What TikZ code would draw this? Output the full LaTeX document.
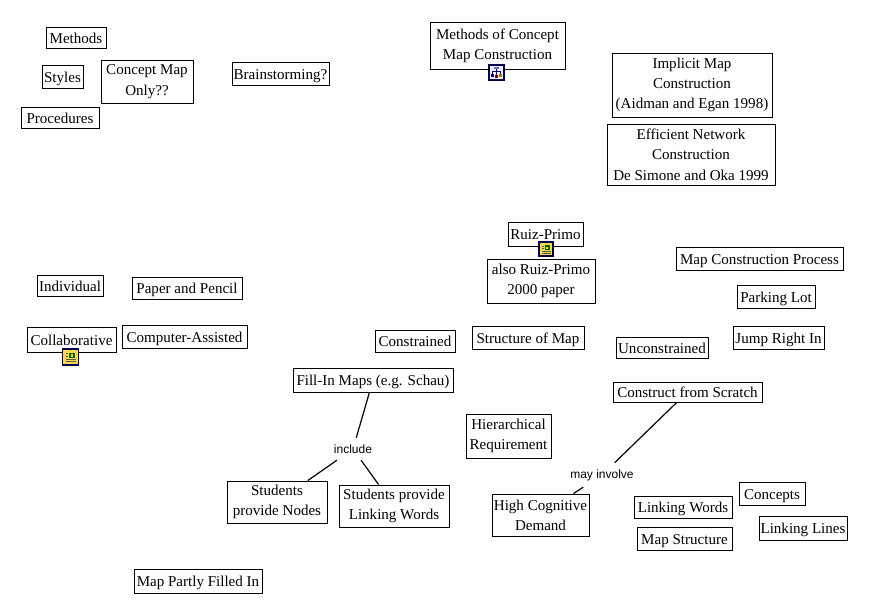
\documentclass[tikz,border=0pt]{standalone}
\usepackage{fontspec}
\setmainfont{Liberation Serif}
\setsansfont{Liberation Sans}
\usepackage{tikz}
\begin{document}
\begin{tikzpicture}[x=1pt, y=-1pt,
	concept/.style={draw, line width=0.9pt, align=center, inner sep=0pt, font=\fontsize{15.05}{20.3}\selectfont},
	single/.style={concept, text height=14pt, text depth=3pt},
	linker/.style={inner sep=0pt, minimum width=44pt, minimum height=22pt, font=\sffamily\fontsize{12}{14}\selectfont},
	link/.style={line width=1.2pt},
	iconbox/.style={draw=black!70!blue, line width=1.2pt, minimum size=14pt, inner sep=0pt}]
	\useasboundingbox (0,0) rectangle (873,614);
	% top left
	\node[single, minimum width=60pt, minimum height=21pt] (methods) at (76,37.5) {Methods};
	\node[single, minimum width=41pt, minimum height=23pt] (styles) at (62.5,76.5) {Styles};
	\node[concept, minimum width=92pt, minimum height=43pt] (only) at (147,81.5) {Concept Map\\Only??};
	\node[single, minimum width=97pt, minimum height=23pt] (brainstorm) at (280.5,73.5) {Brainstorming?};
	\node[single, minimum width=78pt, minimum height=21pt] (procedures) at (60,117.5) {Procedures};
	% top right
	\node[concept, minimum width=135pt, minimum height=47pt] (construction) at (497.5,45.5) {Methods of Concept\\Map Construction};
	\node[concept, minimum width=160pt, minimum height=64pt] (implicit) at (692,85) {Implicit Map\\Construction\\(Aidman and Egan 1998)};
	\node[concept, minimum width=168pt, minimum height=61pt] (efficient) at (691,154.5) {Efficient Network\\Construction\\De Simone and Oka 1999};
	% middle
	\node[single, minimum width=75pt, minimum height=24pt] (ruiz) at (545.5,234) {Ruiz-Primo};
	\node[concept, minimum width=108pt, minimum height=44pt] (ruizpaper) at (541,281) {also Ruiz-Primo\\2000 paper};
	\node[single, minimum width=167pt, minimum height=23pt] (process) at (759.5,258.5) {Map Construction Process};
	\node[single, minimum width=78pt, minimum height=23pt] (parking) at (776,296.5) {Parking Lot};
	\node[single, minimum width=91pt, minimum height=23pt] (jump) at (778.5,337.5) {Jump Right In};
	\node[single, minimum width=92pt, minimum height=21pt] (unconstrained) at (662,347.5) {Unconstrained};
	\node[single, minimum width=112pt, minimum height=23pt] (structure) at (528,337.5) {Structure of Map};
	\node[single, minimum width=80pt, minimum height=22pt] (constrained) at (415,341) {Constrained};
	\node[single, minimum width=66pt, minimum height=21pt] (individual) at (70,285.5) {Individual};
	\node[single, minimum width=110pt, minimum height=22pt] (paper) at (187,288) {Paper and Pencil};
	\node[single, minimum width=125pt, minimum height=23pt] (computer) at (184.5,336.5) {Computer-Assisted};
	\node[single, minimum width=89pt, minimum height=25pt] (collaborative) at (71.5,339.5) {Collaborative};
	% bottom
	\node[single, minimum width=160pt, minimum height=24pt] (fillin) at (373,380) {Fill-In Maps (e.g. Schau)};
	\node[linker] (include) at (353,449) {include};
	\node[concept, minimum width=100pt, minimum height=42pt] (stnodes) at (277,502) {Students\\provide Nodes};
	\node[concept, minimum width=110pt, minimum height=42pt] (stwords) at (394,506) {Students provide\\Linking Words};
	\node[single, minimum width=149pt, minimum height=20pt] (scratch) at (687.5,392) {Construct from Scratch};
	\node[concept, minimum width=85pt, minimum height=44pt] (hierarchical) at (508.5,436) {Hierarchical\\Requirement};
	\node[linker, minimum width=66pt, minimum height=24pt] (involve) at (602,475) {may involve};
	\node[concept, minimum width=97pt, minimum height=42pt] (demand) at (540.5,515) {High Cognitive\\Demand};
	\node[single, minimum width=98pt, minimum height=22pt] (words) at (683,507) {Linking Words};
	\node[single, minimum width=95pt, minimum height=23pt] (mapstructure) at (684.5,538.5) {Map Structure};
	\node[single, minimum width=66pt, minimum height=23pt] (concepts) at (772,493.5) {Concepts};
	\node[single, minimum width=88pt, minimum height=24pt] (lines) at (803,528) {Linking Lines};
	\node[single, minimum width=128pt, minimum height=24pt] (partly) at (198,581) {Map Partly Filled In};
	% connectors
	\draw[link] (fillin) -- (include);
	\draw[link] (include) -- (stnodes);
	\draw[link] (include) -- (stwords);
	\draw[link] (scratch) -- (involve);
	\draw[link] (involve) -- (demand);
	% icons
	\node[iconbox, fill=blue!6, minimum size=15pt] (treeicon) at (496.5,72.5) {};
	\draw[blue!50!black, line width=0.7pt] (496.5,68) -- (496.5,71) (492.5,73.5) -- (492.5,71) -- (500.5,71) -- (500.5,73.5) (496.5,71) -- (496.5,75);
	\fill[blue!60] (494,66.5) rectangle (499,69);
	\fill[blue!60!black] (491,74) rectangle (494,76.5);
	\fill[olive] (499,74) rectangle (502,76.5);
	\fill[red!50!black] (495,75) rectangle (498,77.5);
	\node[iconbox, fill=orange!45!yellow!70!white] (ruizicon) at (546,249) {};
	\fill[green!40!black] (544.5,245) rectangle (550,250);
	\fill[yellow!80!orange] (546,246.5) rectangle (548,248.5);
	\draw[black!65, line width=0.6pt] (541.5,246) -- (543.5,246) (541.5,248.5) -- (543.5,248.5) (541.5,251.5) -- (550.5,251.5) (541.5,253.5) -- (550.5,253.5);
	\node[iconbox, fill=orange!45!yellow!70!white, minimum size=16pt] (collabicon) at (70.5,357) {};
	\fill[green!40!black] (69,352.5) rectangle (75,358);
	\fill[yellow!80!orange] (70.5,354) rectangle (73,356.5);
	\draw[black!65, line width=0.6pt] (65.5,353.5) -- (67.5,353.5) (65.5,356) -- (67.5,356) (65.5,359.5) -- (75.5,359.5) (65.5,361.5) -- (75.5,361.5);
\end{tikzpicture}
\end{document}
